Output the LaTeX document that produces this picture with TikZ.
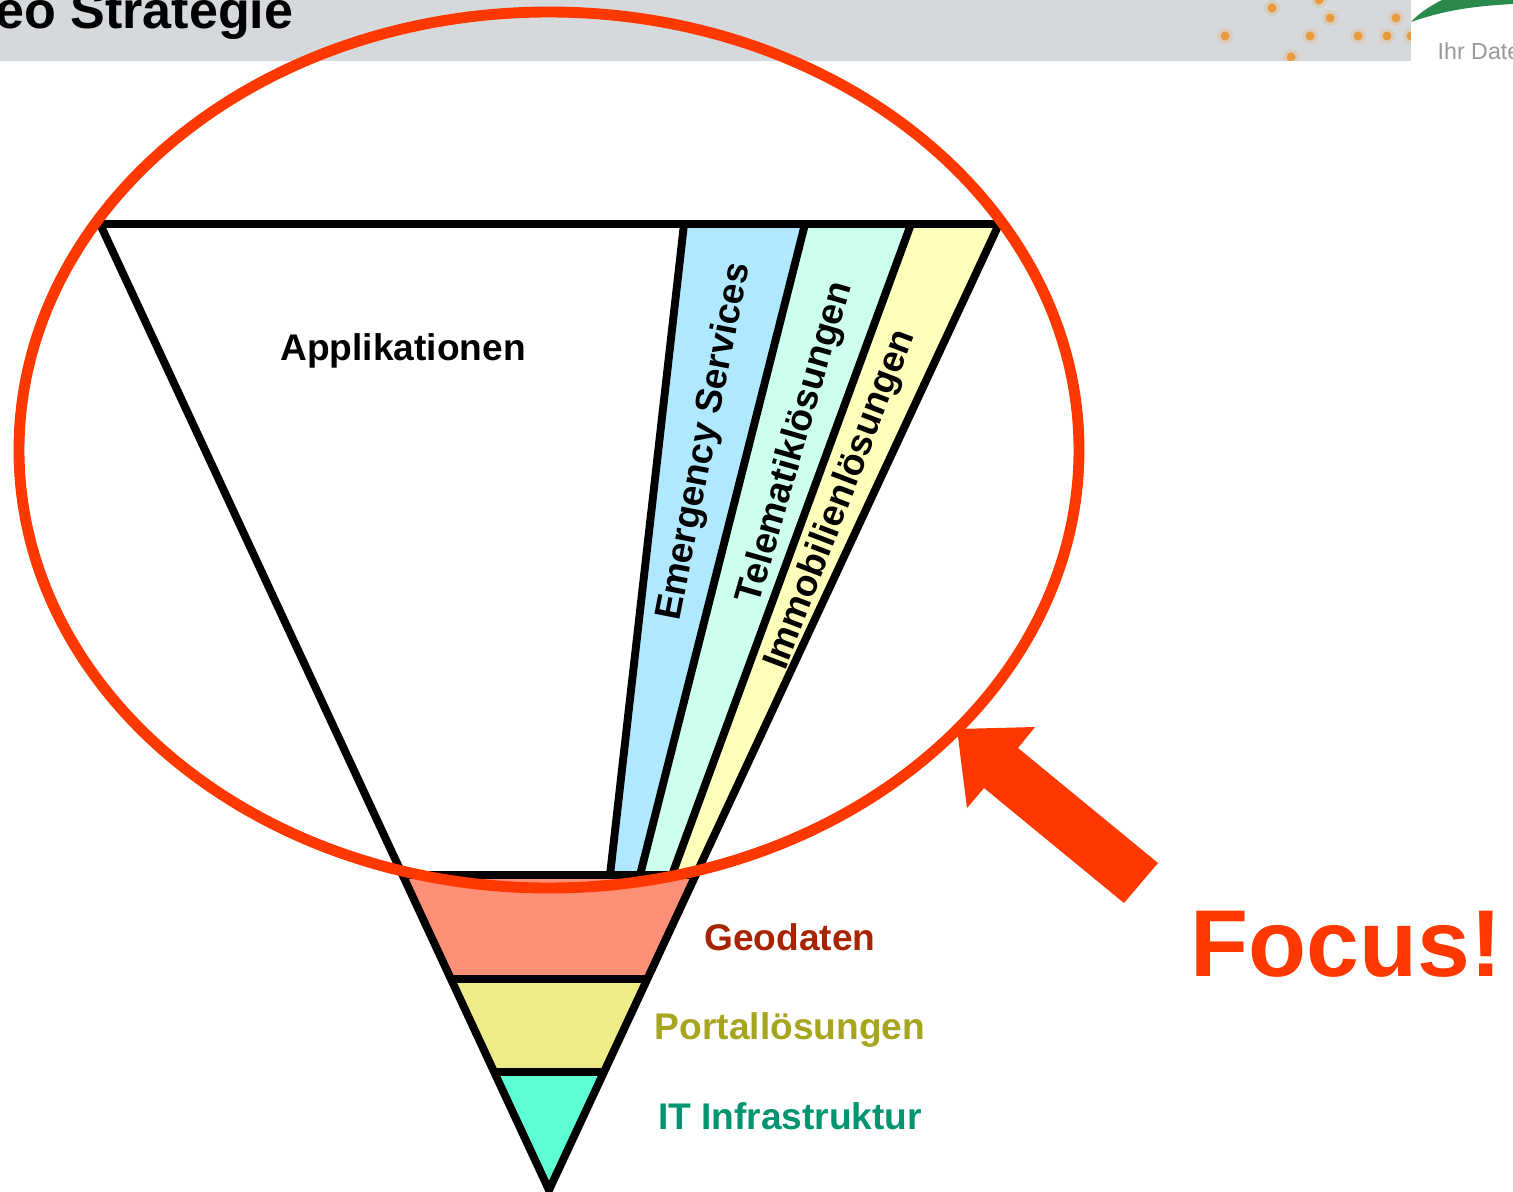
\documentclass[tikz,border=0pt]{standalone}
\usepackage{fontspec}
\setmainfont{Liberation Sans}
\definecolor{focusred}{HTML}{FF3800}
\definecolor{headgray}{HTML}{D5D9DC}
\definecolor{dotorange}{HTML}{E89A3C}
\definecolor{logogreen}{HTML}{2A8A4C}
\definecolor{fillblue}{HTML}{B0E8FF}
\definecolor{fillmint}{HTML}{CCFFEE}
\definecolor{fillyellow}{HTML}{FFFFBB}
\definecolor{fillgeo}{HTML}{FF9078}
\definecolor{fillportal}{HTML}{EDEC88}
\definecolor{fillit}{HTML}{5FFFD5}
\definecolor{textgeo}{HTML}{A82400}
\definecolor{textportal}{HTML}{A5A51E}
\definecolor{textit}{HTML}{009470}
\tikzset{
	funnelline/.style={line width=2.25pt, black, line join=miter},
	label/.style={font=\fontsize{10.55pt}{12pt}\selectfont\bfseries, inner sep=0pt},
	bandlabel/.style={label, anchor=center},
}
\begin{document}
\begin{tikzpicture}[x=0.01cm, y=-0.01cm]
	\useasboundingbox (0,0) rectangle (1513,1191);
	% header
	\fill[headgray] (0,0) rectangle (1411,61);
	\node[anchor=base east, inner sep=0pt, font=\fontsize{14.8pt}{16pt}\selectfont\bfseries] (headline) at (294,29) {eo Strategie};
	\foreach \dx/\dy in {1225/36, 1272/8, 1330/18, 1310/36, 1358/36, 1387/36, 1396/18, 1291/57, 1319/0, 1411/36} {
		\fill[dotorange!18!headgray] (\dx,\dy) circle (8);
		\fill[dotorange] (\dx,\dy) circle (4.5);
	}
	\fill[white] (1411,0) rectangle (1513,61);
	\fill[white] (1270,61) rectangle (1320,70);
	\fill[logogreen] (1411,22) .. controls (1420,12) and (1432,5) .. (1442,0) -- (1513,0) -- (1513,4) .. controls (1475,6) and (1445,10) .. (1411,22);
	\node[anchor=base west, inner sep=0pt, text=black!40, font=\fontsize{6.6pt}{7pt}\selectfont] (logotext) at (1437,60) {Ihr Daten};

	% funnel
	\coordinate (topleft) at (100,224);
	\coordinate (topright) at (999,224);
	\coordinate (apex) at (549,1190);
	\coordinate (appleft) at (402,875);
	\coordinate (appright) at (697,875);
	\coordinate (geoleft) at (451,979);
	\coordinate (georight) at (648,979);
	\coordinate (portalleft) at (494,1072);
	\coordinate (portalright) at (605,1072);
	\coordinate (esbottom) at (610,875);
	\coordinate (estop) at (684,224);
	\coordinate (telbottom) at (640,875);
	\coordinate (teltop) at (805,224);
	\coordinate (immobottom) at (672,875);
	\coordinate (immotop) at (911,224);

	\fill[fillblue] (esbottom) -- (estop) -- (teltop) -- (telbottom) -- cycle;
	\fill[fillmint] (telbottom) -- (teltop) -- (immotop) -- (immobottom) -- cycle;
	\fill[fillyellow] (immobottom) -- (immotop) -- (topright) -- (appright) -- cycle;
	\fill[fillgeo] (appleft) -- (appright) -- (georight) -- (geoleft) -- cycle;
	\fill[fillportal] (geoleft) -- (georight) -- (portalright) -- (portalleft) -- cycle;
	\fill[fillit] (portalleft) -- (portalright) -- (apex) -- cycle;

	\draw[funnelline] (esbottom) -- (estop);
	\draw[funnelline] (telbottom) -- (teltop);
	\draw[funnelline] (immobottom) -- (immotop);
	\draw[funnelline] (appleft) -- (appright);
	\draw[funnelline] (geoleft) -- (georight);
	\draw[funnelline] (portalleft) -- (portalright);
	\draw[funnelline] (topleft) -- (topright) -- (apex) -- cycle;

	% labels
	\node[bandlabel] (applikationen) at (403,351) {Applikationen};
	\node[bandlabel, rotate=79] (emergency) at (705,442) {Emergency Services};
	\node[bandlabel, rotate=73.9] (telematik) at (796,443) {Telematiklösungen};
	\node[bandlabel, rotate=69] (immobilien) at (841,500) {Immobilienlösungen};
	\node[bandlabel, text=textgeo] (geodaten) at (790,937) {Geodaten};
	\node[bandlabel, text=textportal] (portal) at (790,1030) {Portallösungen};
	\node[bandlabel, text=textit] (infra) at (790,1116) {IT Infrastruktur};

	% focus
	\draw[focusred, line width=3.1pt] (549,450) ellipse [x radius=530, y radius=438];
	\fill[focusred] (957,729) -- (1035,727) -- (1018,748) -- (1158,863) -- (1124,903) -- (984,788) -- (967,808) -- cycle;
	\node[anchor=base, inner sep=0pt, text=focusred, font=\fontsize{27pt}{30pt}\selectfont\bfseries] (focus) at (1346,976) {Focus!};
\end{tikzpicture}
\end{document}
